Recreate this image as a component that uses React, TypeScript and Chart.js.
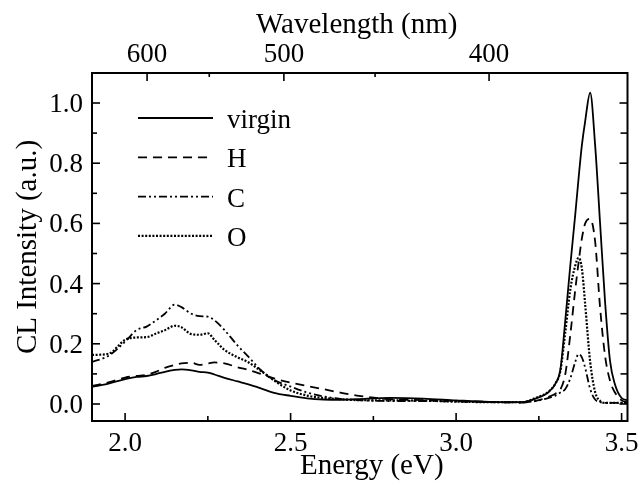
import React, { useEffect, useRef } from "react";
import { Chart, registerables } from "chart.js";

Chart.register(...registerables);

// Photon energy (eV) sample positions
const energy = [
  1.9, 1.95, 2.0, 2.035, 2.065, 2.095, 2.12, 2.15, 2.17, 2.2, 2.225, 2.25, 2.27, 2.3, 2.34, 2.37,
  2.41, 2.45, 2.5, 2.55, 2.6, 2.65, 2.7, 2.8, 2.9, 3.0, 3.1, 3.2, 3.24, 3.28, 3.3, 3.315, 3.33,
  3.345, 3.36, 3.37, 3.38, 3.39, 3.405, 3.42, 3.435, 3.45, 3.465, 3.48, 3.5, 3.518,
];

// CL intensity (a.u.)
const virgin = [
  0.057, 0.068, 0.083, 0.09, 0.093, 0.1, 0.107, 0.113, 0.115, 0.112, 0.107, 0.104, 0.098, 0.087,
  0.075, 0.066, 0.052, 0.037, 0.027, 0.019, 0.015, 0.014, 0.016, 0.02, 0.018, 0.012, 0.007, 0.006,
  0.018, 0.04, 0.068, 0.115, 0.28, 0.46, 0.63, 0.75, 0.86, 0.94, 1.034, 0.86, 0.6, 0.34, 0.143,
  0.065, 0.02, 0.012,
];
const hydrogen = [
  0.06, 0.072, 0.088, 0.093, 0.097, 0.108, 0.12, 0.13, 0.135, 0.137, 0.13, 0.135, 0.138, 0.135,
  0.122, 0.114, 0.1, 0.085, 0.071, 0.06, 0.049, 0.038, 0.028, 0.016, 0.013, 0.01, 0.007, 0.005,
  0.01, 0.024, 0.034, 0.048, 0.1, 0.23, 0.38, 0.47, 0.55, 0.6, 0.615, 0.54, 0.32, 0.16, 0.077,
  0.038, 0.012, 0.006,
];
const carbon = [
  0.14, 0.16, 0.207, 0.246, 0.257, 0.279, 0.3, 0.33, 0.322, 0.3, 0.292, 0.29, 0.278, 0.246, 0.194,
  0.16, 0.113, 0.08, 0.058, 0.038, 0.025, 0.017, 0.013, 0.01, 0.01, 0.008, 0.006, 0.005, 0.01,
  0.02, 0.028, 0.038, 0.05, 0.085, 0.14, 0.166, 0.155, 0.12, 0.05, 0.015, 0.006, 0.004, 0.004,
  0.004, 0.004, 0.004,
];
const oxygen = [
  0.163, 0.167, 0.213, 0.221, 0.222, 0.235, 0.245, 0.26, 0.255, 0.232, 0.23, 0.235, 0.213, 0.18,
  0.155, 0.14, 0.11, 0.078, 0.045, 0.028, 0.02, 0.016, 0.013, 0.012, 0.011, 0.008, 0.006, 0.006,
  0.02, 0.042, 0.068, 0.11, 0.24, 0.38, 0.46, 0.486, 0.45, 0.33, 0.14, 0.04, 0.01, 0.004, 0.004,
  0.004, 0.004, 0.004,
];

const seriesNames = ["virgin", "H", "C", "O"];

// Axis ticks
const energyMajor = [2.0, 2.5, 3.0, 3.5];
const energyMinor = [2.25, 2.75, 3.25];
const intensityMajor = [0, 0.2, 0.4, 0.6, 0.8, 1.0];
const intensityMinor = [0.1, 0.3, 0.5, 0.7, 0.9];
const wavelengthMajor = [600, 500, 400];
const wavelengthMinor = [550, 450];

const HC = 1239.84; // eV*nm

const FONT = '"Liberation Serif", "Times New Roman", serif';

const dashes: number[][] = [[], [9, 6], [8, 3, 2, 3, 2, 3], [2, 1.6]];

const framePlugin = {
  id: "frameAndText",
  afterDraw(chart: any) {
    const { ctx, chartArea: a, scales } = chart;
    const xs = scales.x;
    const ys = scales.y;
    ctx.save();
    ctx.strokeStyle = "#000";
    ctx.fillStyle = "#000";
    ctx.lineWidth = 2;
    ctx.setLineDash([]);
    ctx.strokeRect(a.left, a.top, a.right - a.left, a.bottom - a.top);

    ctx.lineWidth = 1.6;
    const vtick = (x: number, y0: number, len: number) => {
      ctx.beginPath();
      ctx.moveTo(x, y0);
      ctx.lineTo(x, y0 + len);
      ctx.stroke();
    };
    const htick = (y: number, x0: number, len: number) => {
      ctx.beginPath();
      ctx.moveTo(x0, y);
      ctx.lineTo(x0 + len, y);
      ctx.stroke();
    };
    // bottom
    energyMajor.forEach((e) => vtick(xs.getPixelForValue(e), a.bottom, -8));
    energyMinor.forEach((e) => vtick(xs.getPixelForValue(e), a.bottom, -5));
    // top (wavelength)
    wavelengthMajor.forEach((w) => vtick(xs.getPixelForValue(HC / w), a.top, 8));
    wavelengthMinor.forEach((w) => vtick(xs.getPixelForValue(HC / w), a.top, 4));
    // left
    intensityMajor.forEach((v) => htick(ys.getPixelForValue(v), a.left, 8));
    intensityMinor.forEach((v) => htick(ys.getPixelForValue(v), a.left, 5));
    // right
    intensityMajor.forEach((v) => htick(ys.getPixelForValue(v), a.right, -8));
    intensityMinor.forEach((v) => htick(ys.getPixelForValue(v), a.right, -7));

    // tick labels
    ctx.font = `27px ${FONT}`;
    ctx.textBaseline = "alphabetic";
    ctx.textAlign = "center";
    energyMajor.forEach((e) => ctx.fillText(e.toFixed(1), xs.getPixelForValue(e), a.bottom + 30));
    wavelengthMajor.forEach((w) => ctx.fillText(String(w), xs.getPixelForValue(HC / w), a.top - 11));
    ctx.textAlign = "right";
    intensityMajor.forEach((v) => ctx.fillText(v.toFixed(1), a.left - 9, ys.getPixelForValue(v) + 9));

    // titles
    ctx.font = `29px ${FONT}`;
    ctx.textAlign = "center";
    const cx = (a.left + a.right) / 2;
    ctx.fillText("Energy (eV)", cx + 12, a.bottom + 53);
    ctx.fillText("Wavelength (nm)", cx - 3, a.top - 40);
    ctx.save();
    ctx.translate(a.left - 56, (a.top + a.bottom) / 2);
    ctx.rotate(-Math.PI / 2);
    ctx.fillText("CL Intensity (a.u.)", 0, 0);
    ctx.restore();

    // legend
    const lx0 = a.left + 46;
    const lx1 = a.left + 121;
    const ly0 = a.top + 45;
    const step = 39.3;
    seriesNames.forEach((name, i) => {
      const y = ly0 + i * step;
      ctx.lineWidth = i === 3 ? 2.2 : 1.8;
      ctx.setLineDash(dashes[i]);
      ctx.beginPath();
      ctx.moveTo(lx0, y);
      ctx.lineTo(lx1, y);
      ctx.stroke();
      ctx.setLineDash([]);
      ctx.textAlign = "left";
      ctx.font = `27px ${FONT}`;
      ctx.fillText(name, a.left + 135, y + 10);
    });
    ctx.restore();
  },
};

export default function App() {
  const ref = useRef<HTMLCanvasElement | null>(null);
  useEffect(() => {
    if (!ref.current) return;
    const sets = [virgin, hydrogen, carbon, oxygen];
    const chart = new Chart(ref.current, {
      type: "line",
      data: {
        datasets: sets.map((vals, i) => ({
          label: seriesNames[i],
          data: energy.map((e, k) => ({ x: e, y: vals[k] })),
          borderColor: "#000",
          borderWidth: i === 3 ? 2.2 : 1.8,
          borderDash: dashes[i],
          pointRadius: 0,
          fill: false,
          cubicInterpolationMode: "monotone" as const,
        })),
      },
      options: {
        responsive: false,
        animation: false,
        layout: { padding: { left: 92, top: 73, right: 11.5, bottom: 63 } },
        plugins: { legend: { display: false }, tooltip: { enabled: false } },
        scales: {
          x: { type: "linear", min: 1.9, max: 3.5178, display: false },
          y: { type: "linear", min: -0.0565, max: 1.0997, display: false },
        },
      },
      plugins: [framePlugin],
    });
    return () => chart.destroy();
  }, []);
  return (
    <div style={{ position: "absolute", left: 0, top: 0, width: 639, height: 484 }}>
      <canvas ref={ref} width={639} height={484} style={{ display: "block" }} />
    </div>
  );
}
